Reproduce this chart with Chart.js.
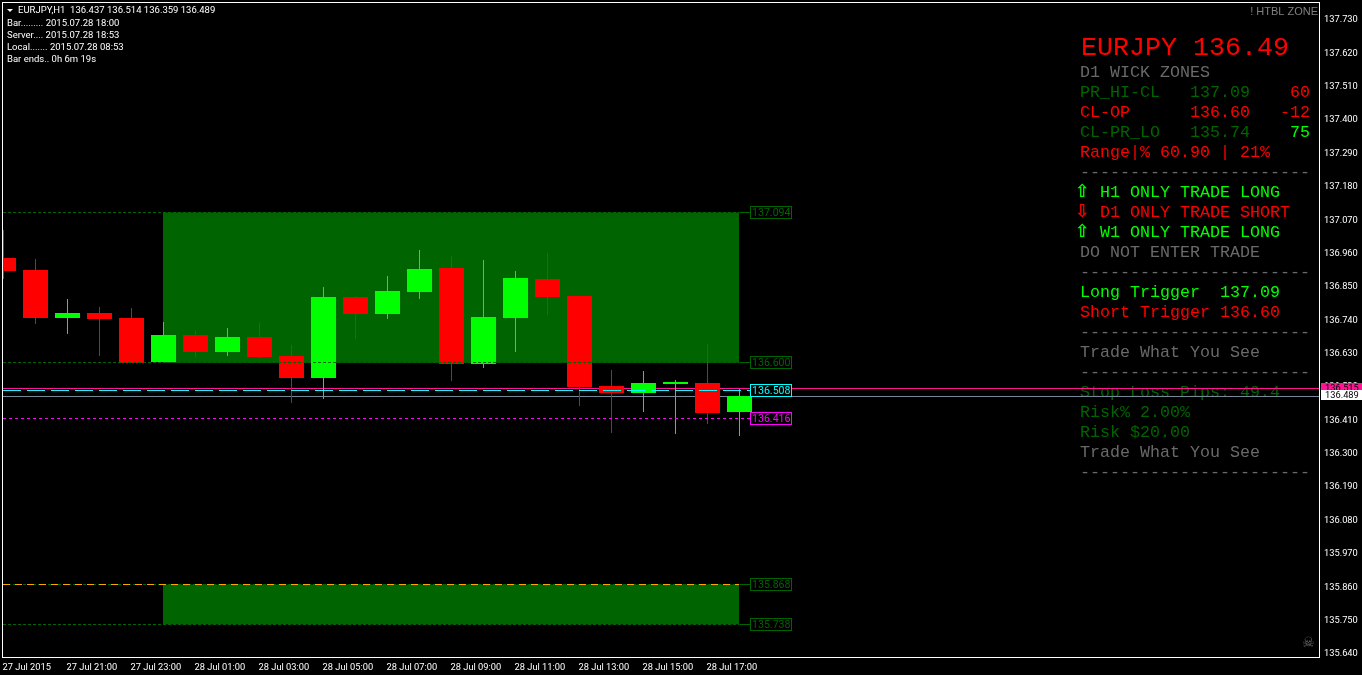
<!DOCTYPE html>
<html>
<head>
<meta charset="utf-8">
<title>EURJPY,H1</title>
<script src="https://cdn.jsdelivr.net/npm/chart.js@4"></script>
<style>
    html, body { margin: 0; padding: 0; background: #000; overflow: hidden; }
    canvas { display: block; }
</style>
</head>
<body>
<canvas id="priceChart" width="1362" height="675"></canvas>
<script>
// H1 candles, 27 Jul 19:00 to 28 Jul 18:00
var opens = [136.945, 136.905, 136.747, 136.764, 136.747, 136.602, 136.691, 136.635, 136.685, 136.622, 136.549, 136.816,
    136.760, 136.833, 136.912, 136.595, 136.747, 136.876, 136.820, 136.523, 136.500, 136.530, 136.533, 136.437];
var highs = [137.037, 136.942, 136.810, 136.783, 136.780, 136.734, 136.704, 136.714, 136.731, 136.658, 136.849, 136.820,
    136.886, 136.971, 136.952, 136.938, 136.902, 136.962, 136.820, 136.576, 136.572, 136.543, 136.661, 136.514];
var lows = [136.876, 136.727, 136.694, 136.622, 136.598, 136.600, 136.619, 136.622, 136.617, 136.467, 136.480, 136.678,
    136.744, 136.810, 136.539, 136.582, 136.635, 136.757, 136.457, 136.368, 136.437, 136.365, 136.398, 136.359];
var closes = [136.902, 136.747, 136.764, 136.744, 136.600, 136.691, 136.635, 136.685, 136.619, 136.549, 136.816, 136.760,
    136.836, 136.909, 136.595, 136.750, 136.879, 136.816, 136.520, 136.500, 136.533, 136.536, 136.434, 136.489];

var timeLabels = ["27 Jul 2015", "27 Jul 21:00", "27 Jul 23:00", "28 Jul 01:00", "28 Jul 03:00", "28 Jul 05:00",
    "28 Jul 07:00", "28 Jul 09:00", "28 Jul 11:00", "28 Jul 13:00", "28 Jul 15:00", "28 Jul 17:00"];
var priceTicks = [137.73, 137.62, 137.51, 137.40, 137.29, 137.18, 137.07, 136.96, 136.85, 136.74, 136.63, 136.52,
    136.41, 136.30, 136.19, 136.08, 135.97, 135.86, 135.75, 135.64];

// wick zones: [top, bottom]
var upperZone = [137.094, 136.600];
var lowerZone = [135.868, 135.738];
var zoneFrom = 5, zoneTo = 23;

var ask = 136.515, bid = 136.489, midLine = 136.508, lowLine = 136.416;

var infoLines = ["Bar......... 2015.07.28 18:00", "Server.... 2015.07.28 18:53", "Local....... 2015.07.28 08:53", "Bar ends.. 0h 6m 19s"];
var dashes = "-----------------------";
var panelRows = [
    [["D1 WICK ZONES", "#696969"]],
    [["PR_HI-CL   137.09", "#006400"], ["    60", "#ff0000"]],
    [["CL-OP      136.60   -12", "#ff0000"]],
    [["CL-PR_LO   135.74", "#006400"], ["    75", "#00ff00"]],
    [["Range|% 60.90 | 21%", "#ff0000"]],
    [[dashes, "#696969"]],
    [["  H1 ONLY TRADE LONG", "#00ff00"]],
    [["  D1 ONLY TRADE SHORT", "#ff0000"]],
    [["  W1 ONLY TRADE LONG", "#00ff00"]],
    [["DO NOT ENTER TRADE", "#696969"]],
    [[dashes, "#696969"]],
    [["Long Trigger  137.09", "#00ff00"]],
    [["Short Trigger 136.60", "#ff0000"]],
    [[dashes, "#696969"]],
    [["Trade What You See", "#696969"]],
    [[dashes, "#696969"]],
    [["Stop Loss Pips: 49.4", "#006400"]],
    [["Risk% 2.00%", "#006400"]],
    [["Risk $20.00", "#006400"]],
    [["Trade What You See", "#696969"]],
    [[dashes, "#696969"]]
];
var arrows = [["\u21e7", "#00ff00", 6], ["\u21e9", "#ff0000", 7], ["\u21e7", "#00ff00", 8]];

var UP = "#00ff00", DOWN = "#ff0000", ZONE = "#006400";
var MONO = "'Liberation Mono', monospace";
var SANS = "Roboto, sans-serif";

var xMin = -0.0156, xMax = 41.11;

function colors() {
    return closes.map(function (c, i) { return c >= opens[i] ? UP : DOWN; });
}

function hline(price, color, dash, from, to, order) {
    return {
        type: "line",
        data: [{ x: from, y: price }, { x: to, y: price }],
        borderColor: color,
        borderWidth: 1,
        borderDash: dash,
        pointRadius: 0,
        order: order
    };
}

function zone(range) {
    return {
        type: "line",
        data: [{ x: zoneFrom, y: range[0] }, { x: zoneTo, y: range[0] }],
        borderWidth: 0,
        pointRadius: 0,
        backgroundColor: ZONE,
        fill: { target: { value: range[1] } },
        order: 5
    };
}

// MT4 draws everything on whole pixels, so snap the elements before they are painted
var snapPlugin = {
    id: "snap",
    beforeDatasetsDraw: function (chart) {
        chart.data.datasets.forEach(function (ds, i) {
            chart.getDatasetMeta(i).data.forEach(function (el) {
                if (ds.type === "line") {
                    el.x = Math.floor(el.x);
                    el.y = Math.floor(el.y) + 0.5;
                } else {
                    el.y = Math.round(el.y);
                    el.base = Math.round(el.base);
                }
            });
        });
    }
};

function priceBox(ctx, chart, price, color, textColor, connector) {
    var y = Math.floor(chart.scales.y.getPixelForValue(price)) + 0.5;
    var x = Math.floor(chart.scales.x.getPixelForValue(zoneTo)) + 0.5;
    if (connector) {
        ctx.strokeStyle = color;
        ctx.beginPath();
        ctx.moveTo(x, y);
        ctx.lineTo(x + 11, y);
        ctx.stroke();
    }
    ctx.fillStyle = "#000";
    ctx.fillRect(x + 11, y - 6, 41, 12);
    ctx.strokeStyle = color;
    ctx.strokeRect(x + 11, y - 6, 41, 12);
    ctx.fillStyle = textColor;
    ctx.font = "10.6px " + SANS;
    ctx.textAlign = "left";
    ctx.textBaseline = "middle";
    ctx.fillText(price.toFixed(3), x + 12.5, y + 0.5);
}

function axisTag(ctx, chart, price, background) {
    var y = Math.round(chart.scales.y.getPixelForValue(price));
    ctx.fillStyle = background;
    ctx.fillRect(1321, y - 6, 41, 10);
    ctx.fillStyle = "#000";
    ctx.font = "9.3px " + SANS;
    ctx.textAlign = "left";
    ctx.textBaseline = "middle";
    ctx.fillText(price.toFixed(3), 1325, y - 0.5);
}

var overlayPlugin = {
    id: "overlay",
    // panel text sits below the bid and ask lines
    beforeDatasetsDraw: function (chart) {
        var ctx = chart.ctx;
        ctx.save();
        ctx.textAlign = "left";
        ctx.textBaseline = "middle";

        ctx.fillStyle = "#ff0000";
        ctx.font = "26.67px " + MONO;
        ctx.fillText("EURJPY 136.49", 1081, 48);

        ctx.font = "16.67px " + MONO;
        panelRows.forEach(function (row, r) {
            var x = 1080;
            row.forEach(function (seg) {
                ctx.fillStyle = seg[1];
                ctx.fillText(seg[0], x, 73 + r * 20);
                x += ctx.measureText(seg[0]).width;
            });
        });
        ctx.font = "bold 18px 'DejaVu Sans', sans-serif";
        arrows.forEach(function (a) {
            ctx.fillStyle = a[1];
            ctx.fillText(a[0], 1075, 72 + a[2] * 20);
        });

        ctx.fillStyle = "#808080";
        ctx.textAlign = "right";
        ctx.font = "11px 'Liberation Sans', sans-serif";
        ctx.fillText("! HTBL ZONE", 1318, 12);

        ctx.font = "14px 'DejaVu Sans', sans-serif";
        ctx.textAlign = "left";
        ctx.fillStyle = "#6c6c6c";
        ctx.fillText("\u2620", 1302, 643);

        ctx.fillStyle = "#fff";
        ctx.font = "9.5px " + SANS;
        ctx.fillText("EURJPY,H1  136.437 136.514 136.359 136.489", 18, 11);
        infoLines.forEach(function (line, i) {
            ctx.fillText(line, 7, 24 + i * 12);
        });
        ctx.beginPath();
        ctx.moveTo(7, 9);
        ctx.lineTo(13, 9);
        ctx.lineTo(10, 12);
        ctx.closePath();
        ctx.fill();
        ctx.restore();
    },
    afterDatasetsDraw: function (chart) {
        var ctx = chart.ctx;
        var area = chart.chartArea;
        ctx.save();
        ctx.lineWidth = 1;
        priceBox(ctx, chart, upperZone[0], ZONE, ZONE, true);
        priceBox(ctx, chart, upperZone[1], ZONE, ZONE, true);
        priceBox(ctx, chart, lowerZone[0], ZONE, ZONE, true);
        priceBox(ctx, chart, lowerZone[1], ZONE, ZONE, true);
        priceBox(ctx, chart, midLine, "#00ffff", "#00ffff", false);
        priceBox(ctx, chart, lowLine, "#ff00ff", "#ff00ff", false);

        ctx.strokeStyle = "#fff";
        ctx.strokeRect(area.left - 0.5, area.top - 0.5, area.width + 1, area.height + 1);

        axisTag(ctx, chart, ask, "#ff1493");
        axisTag(ctx, chart, bid, "#ffffff");
        ctx.restore();
    }
};

var barColors = colors();

new Chart(document.getElementById("priceChart"), {
    type: "bar",
    data: {
        datasets: [
            hline(lowerZone[0], "#ffa500", [7, 5], xMin, zoneTo, 0),
            hline(upperZone[0], ZONE, [3, 2], xMin, zoneTo, 0),
            hline(upperZone[1], ZONE, [3, 2], xMin, zoneTo, 0),
            hline(lowerZone[1], ZONE, [3, 2], xMin, zoneTo, 0),
            hline(lowerZone[0], ZONE, [3, 2], xMin, zoneTo, 0),
            hline(midLine, "#00ffff", [18, 6], xMin, zoneTo + 0.33, 0),
            hline(lowLine, "#ff00ff", [3, 3], xMin, zoneTo + 0.33, 0),
            {
                data: opens.map(function (o, i) { return { x: i, y: [o, closes[i]] }; }),
                backgroundColor: barColors,
                barThickness: 25,
                grouped: false,
                inflateAmount: 0,
                order: 1
            },
            {
                data: opens.map(function (o, i) { return { x: i, y: [lows[i], highs[i]] }; }),
                backgroundColor: barColors,
                barThickness: 1,
                grouped: false,
                inflateAmount: 0,
                order: 2
            },
            hline(ask, "#ff1493", [], xMin, xMax, 3),
            hline(bid, "#778899", [], xMin, xMax, 3),
            zone(upperZone),
            zone(lowerZone)
        ]
    },
    options: {
        responsive: false,
        animation: false,
        layout: { padding: { left: 3, top: 3, right: 0, bottom: 0 } },
        plugins: { legend: { display: false }, tooltip: { enabled: false } },
        scales: {
            x: {
                type: "linear",
                offset: false,
                min: xMin,
                max: xMax,
                afterBuildTicks: function (scale) {
                    scale.ticks = timeLabels.map(function (t, i) { return { value: i * 2 }; });
                },
                afterFit: function (scale) {
                    scale.height = 18;
                    scale.paddingLeft = 0;
                    scale.paddingRight = 0;
                },
                grid: { display: false, drawTicks: true, offset: false, tickColor: "#fff", tickLength: 3 },
                border: { display: false },
                ticks: {
                    color: "#fff",
                    font: { family: "Roboto", size: 9.3 },
                    align: "start",
                    labelOffset: -1,
                    padding: 2,
                    maxRotation: 0,
                    autoSkip: false,
                    callback: function (v, i) { return timeLabels[i]; }
                }
            },
            y: {
                position: "right",
                min: 135.630,
                max: 137.786,
                afterBuildTicks: function (scale) {
                    scale.ticks = priceTicks.map(function (p) { return { value: p + 0.0033 }; });
                },
                afterFit: function (scale) {
                    scale.width = 43;
                    scale.paddingTop = 0;
                    scale.paddingBottom = 0;
                },
                grid: { display: false, drawTicks: true, tickColor: "#fff", tickLength: 3 },
                border: { display: false },
                ticks: {
                    color: "#fff",
                    font: { family: "Roboto", size: 9.3 },
                    labelOffset: 1,
                    padding: 2,
                    autoSkip: false,
                    callback: function (v, i) { return priceTicks[i].toFixed(3); }
                }
            }
        }
    },
    plugins: [snapPlugin, overlayPlugin]
});
</script>
</body>
</html>
